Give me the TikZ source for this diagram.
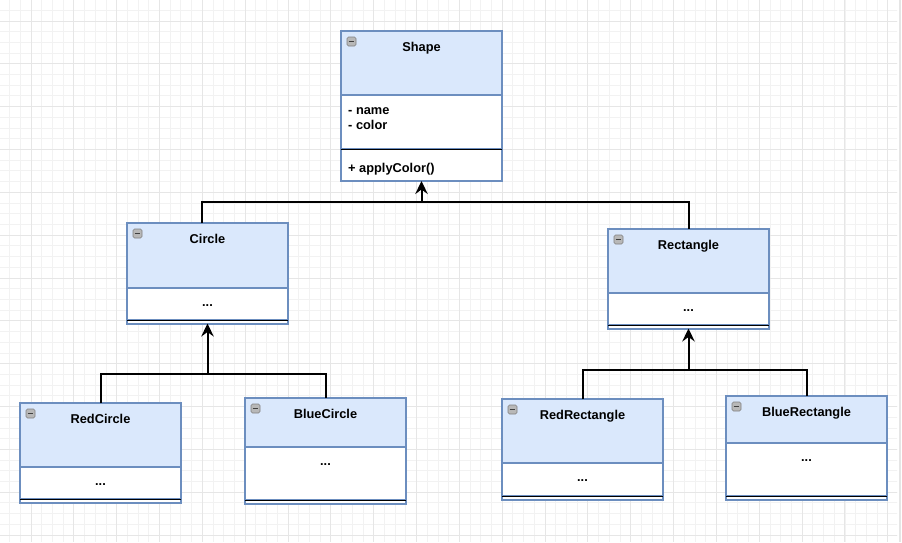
\documentclass[tikz,border=0pt]{standalone}
\usepackage{fontspec}
\setmainfont{Liberation Sans}
\usetikzlibrary{positioning,arrows.meta}

\definecolor{umlblue}{HTML}{6C8EBF}
\definecolor{umlfill}{HTML}{DAE8FC}
\definecolor{minorgrid}{HTML}{F2F2F2}
\definecolor{majorgrid}{HTML}{E6E6E6}

\tikzset{
  classhead/.style={draw=umlblue, fill=umlfill, line width=2pt, anchor=north west,
    minimum width=161pt, inner sep=0pt, outer sep=0pt},
  classbody/.style={draw=umlblue, fill=white, line width=2pt,
    minimum width=161pt, inner sep=0pt, outer sep=0pt},
  classfoot/.style={classbody, minimum height=3.5pt},
  sepline/.style={black, line width=1pt},
  classtitle/.style={anchor=base, inner sep=0pt, font=\fontsize{12.8}{15}\selectfont\bfseries},
  members/.style={anchor=base west, inner sep=0pt, font=\fontsize{12.8}{15}\selectfont\bfseries},
  dots/.style={inner sep=0pt, font=\fontsize{12.8}{15}\selectfont\bfseries},
  toggle/.style={draw=black!50, fill=black!28, rounded corners=1.5pt, minimum size=9pt,
    inner sep=0pt, line width=0.6pt,
    path picture={\draw[black!75, line width=1.4pt]
      ([xshift=-2.8pt]path picture bounding box.center) --
      ([xshift=2.8pt]path picture bounding box.center);}},
  joint/.style={black, line width=2pt},
  inherit/.style={joint, -{Stealth[length=13pt, width=12.5pt, inset=4.5pt]}}
}

\begin{document}
\begin{tikzpicture}[x=1pt, y=-1pt]
      \useasboundingbox (0,0) rectangle (902,542) ;
      % background grid
      \begin{scope}
        \clip (0,0) rectangle (897,542) ;
        \foreach \i in {0,...,84} {
          \draw[minorgrid, line width=1pt] ({-1.1+10.71*\i},0) -- ({-1.1+10.71*\i},542) ;
        }
        \foreach \i in {0,...,51} {
          \draw[minorgrid, line width=1pt] (0,{-0.4+10.71*\i}) -- (902,{-0.4+10.71*\i}) ;
        }
        \foreach \i in {0,...,21} {
          \draw[majorgrid, line width=1pt] ({-11.84+42.84*\i},0) -- ({-11.84+42.84*\i},542) ;
        }
        \foreach \i in {0,...,13} {
          \draw[majorgrid, line width=1pt] (0,{-21.8+42.84*\i}) -- (902,{-21.8+42.84*\i}) ;
        }
      \end{scope}
      \draw[black!10, line width=2pt] (900,0) -- (900,542) ;

      % base class
      \node[classhead, minimum height=64pt] (Shape) at (341,31) {} ;
      \node[classbody, minimum height=54pt, below=0pt of Shape] (Shapeattr) {} ;
      \node[classbody, minimum height=32pt, below=0pt of Shapeattr] (Shapeop) {} ;
      \draw[sepline] (Shapeattr.south west) -- (Shapeattr.south east) ;
      \node[toggle] (Shapetoggle) at ([xshift=10.5pt,yshift=-10.5pt]Shape.north west) {} ;
      \node[classtitle] (Shapetitle) at ([yshift=-20.5pt]Shape.north) {Shape} ;
      \node[members] (Shapename) at ([xshift=7pt,yshift=-19pt]Shapeattr.north west) {- name} ;
      \node[members] (Shapecolor) at ([xshift=7pt,yshift=-34pt]Shapeattr.north west) {- color} ;
      \node[members] (Shapemethod) at ([xshift=7pt,yshift=-23pt]Shapeop.north west) {+ applyColor()} ;

      % sub classes: name/left/top/header/body
      \foreach \name/\x/\y/\hh/\bh in {Circle/127/223/65/32, Rectangle/608/229/64/32,
          RedCircle/20/403/64/32, BlueCircle/245/398/49/53,
          RedRectangle/502/399/64/33, BlueRectangle/726/396/47/53} {
        \node[classhead, minimum height=\hh pt] (\name) at (\x,\y) {} ;
        \node[classbody, minimum height=\bh pt, below=0pt of \name] (\name body) {} ;
        \node[classfoot, below=0pt of \name body] (\name foot) {} ;
        \draw[sepline] (\name body.south west) -- (\name body.south east) ;
        \node[toggle] (\name toggle) at ([xshift=10.5pt,yshift=-10.5pt]\name.north west) {} ;
        \node[classtitle] (\name title) at ([yshift=-20.5pt]\name.north) {\name} ;
        \node[dots] (\name dots) at ([yshift=-17.5pt]\name body.north) {...} ;
      }

      % inheritance
      \coordinate (Shapebar) at ([yshift=-21pt]Shapeop.south) ;
      \coordinate (Circlebar) at ([yshift=-50pt]Circlefoot.south) ;
      \coordinate (Rectanglebar) at ([yshift=-41pt]Rectanglefoot.south) ;
      \draw[joint] ([xshift=-5.5pt]Circle.north) |- (Shapebar) -| (Rectangle.north) ;
      \draw[inherit] (Shapebar) -- (Shapeop.south) ;
      \draw[joint] (RedCircle.north) |- (Circlebar) -| (BlueCircle.north) ;
      \draw[inherit] (Circlebar) -- (Circlefoot.south) ;
      \draw[joint] (RedRectangle.north) |- (Rectanglebar) -| (BlueRectangle.north) ;
      \draw[inherit] (Rectanglebar) -- (Rectanglefoot.south) ;
    \end{tikzpicture}
\end{document}
